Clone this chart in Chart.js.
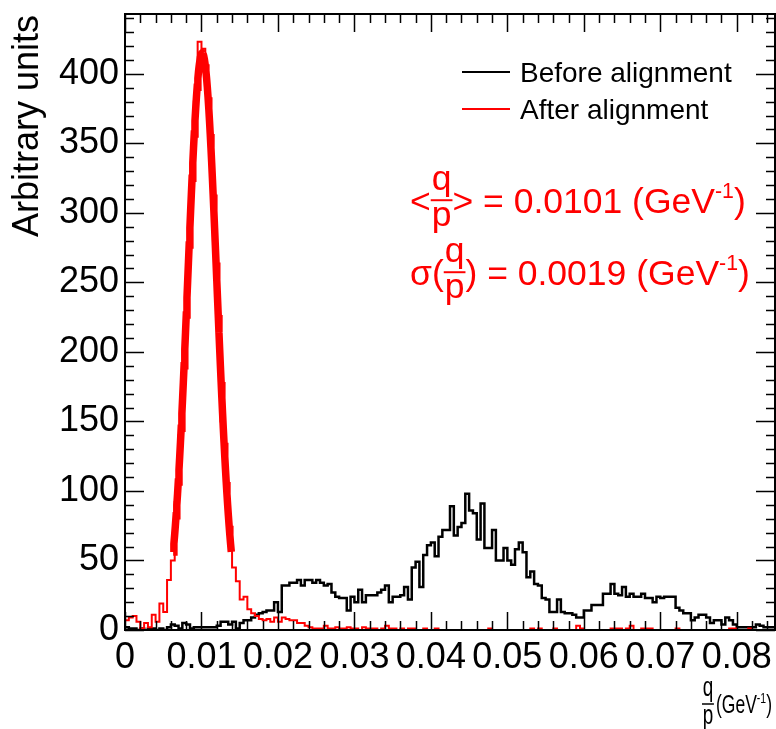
<!DOCTYPE html>
<html>
<head>
<meta charset="utf-8">
<title>q/p before and after alignment</title>
<script src="https://cdn.jsdelivr.net/npm/chart.js@4.4.0/dist/chart.umd.min.js"></script>
<style>
  html, body { margin: 0; padding: 0; background: #fff; }
  #wrap { width: 776px; height: 729px; }
</style>
</head>
<body>
<div id="wrap"><canvas id="c" width="776" height="729"></canvas></div>
<script>
// ---- histogram binning ----
const BIN_WIDTH = 0.0005;
const X_MIN = 0;
const X_MAX = 0.085;
const Y_MAX = 443;

// ---- axis ticks ----
const xTickValues = [0, 0.01, 0.02, 0.03, 0.04, 0.05, 0.06, 0.07, 0.08];
const yTickValues = [0, 50, 100, 150, 200, 250, 300, 350, 400];
const X_MINOR = 0.002;
const Y_MINOR = 10;

// ---- bin contents (170 bins of 0.0005 from 0 to 0.085) ----
const beforeCounts = [
  2, 1, 1, 0, 1, 0, 1, 1, 0, 1,
  0, 2, 4, 3, 1, 5, 4, 1, 2, 2,
  2, 2, 2, 2, 3, 6, 6, 4, 6, 1,
  5, 7, 7, 9, 11, 12, 13, 14, 14, 20,
  13, 32, 32, 34, 34, 36, 32, 36, 36, 34,
  36, 34, 32, 33, 27, 24, 23, 23, 14, 24,
  20, 29, 20, 25, 25, 25, 27, 29, 32, 20,
  24, 24, 25, 31, 22, 45, 49, 31, 54, 61,
  63, 53, 67, 72, 72, 89, 68, 74, 77, 98,
  86, 84, 65, 91, 59, 59, 72, 50, 50, 59,
  50, 47, 58, 63, 56, 38, 42, 33, 32, 23,
  22, 13, 13, 22, 13, 12, 12, 11, 9, 9,
  14, 14, 18, 18, 18, 26, 26, 33, 26, 25,
  31, 24, 26, 24, 24, 26, 23, 23, 20, 24,
  23, 24, 24, 24, 16, 14, 12, 12, 7, 9,
  11, 11, 9, 5, 7, 7, 4, 9, 7, 4,
  2, 2, 2, 2, 2, 4, 3, 2, 2, 2
];

const afterCounts = [
  7, 9, 10, 6, 1, 5, 2, 11, 6, 19,
  13, 36, 50, 92, 140, 190, 262, 318, 380, 423,
  418, 388, 350, 280, 222, 150, 100, 63, 45, 35,
  22, 24, 15, 12, 10, 8, 7, 8, 6, 9,
  6, 9, 8, 7, 7, 5, 5, 3, 2, 1,
  1, 1, 3, 1, 1, 2, 1, 1, 2, 1,
  1, 0, 2, 1, 1, 1, 0, 1, 3, 1,
  1, 0, 1, 0, 1, 1, 0, 0, 1, 0,
  0, 1, 0, 0, 0, 0, 0, 0, 0, 0,
  0, 0, 0, 0, 0, 1, 0, 0, 0, 0,
  0, 0, 0, 0, 0, 0, 1, 0, 1, 0,
  0, 0, 1, 0, 0, 0, 0, 0, 3, 1,
  0, 0, 0, 0, 0, 0, 0, 1, 1, 1,
  0, 1, 3, 0, 0, 1, 1, 1, 0, 0,
  0, 0, 0, 0, 1, 0, 0, 0, 0, 0,
  0, 0, 0, 0, 0, 0, 0, 0, 1, 1,
  0, 0, 0, 1, 0, 0, 0, 0, 0, 0
];

// ---- Gaussian fit of the aligned distribution ----
const FIT_MEAN = 0.0101;
const FIT_SIGMA = 0.0019;
const FIT_AMPLITUDE = 415;
const FIT_LOW = 0.0063;
const FIT_HIGH = 0.0139;
const FIT_SAMPLES = 80;

const seriesLabels = ['Before alignment', 'After alignment'];
const FONT = '"Liberation Sans", Arial, Helvetica, sans-serif';

// step outline: each bin starts at its low edge, last point closes the final bin
function histPoints(counts) {
  const pts = counts.map((c, i) => ({ x: X_MIN + i * BIN_WIDTH, y: c }));
  pts.push({ x: X_MIN + counts.length * BIN_WIDTH, y: counts[counts.length - 1] });
  return pts;
}

function fitPoints() {
  const pts = [];
  for (let k = 0; k <= FIT_SAMPLES; k++) {
    const x = FIT_LOW + (FIT_HIGH - FIT_LOW) * k / FIT_SAMPLES;
    const z = (x - FIT_MEAN) / FIT_SIGMA;
    pts.push({ x, y: FIT_AMPLITUDE * Math.exp(-0.5 * z * z) });
  }
  return pts;
}

// draws a run of text pieces left to right; a piece may be a fraction, a superscript or a gap
function drawPieces(ctx, x, baseline, pieces, size, fracSize) {
  ctx.textBaseline = 'alphabetic';
  ctx.textAlign = 'left';
  const fs = fracSize || size;
  for (const p of pieces) {
    if (p.gap) {
      x += p.gap;
    } else if (p.frac) {
      ctx.font = `${fs}px ${FONT}`;
      const wNum = ctx.measureText(p.frac[0]).width;
      const wDen = ctx.measureText(p.frac[1]).width;
      const w = Math.max(wNum, wDen) + 2;
      const barY = baseline - size * 0.36;
      ctx.fillText(p.frac[0], x + (w - wNum) / 2, barY - fs * 0.3);
      ctx.fillText(p.frac[1], x + (w - wDen) / 2, barY + fs * 0.74);
      ctx.save();
      ctx.lineWidth = Math.max(1.5, fs / 18);
      ctx.beginPath();
      ctx.moveTo(x, barY);
      ctx.lineTo(x + w, barY);
      ctx.stroke();
      ctx.restore();
      x += w;
    } else if (p.sup) {
      const s = size * 0.6;
      ctx.font = `${s}px ${FONT}`;
      ctx.fillText(p.sup, x, baseline - size * 0.42);
      x += ctx.measureText(p.sup).width;
    } else {
      ctx.font = `${size}px ${FONT}`;
      ctx.fillText(p.text, x, baseline);
      x += ctx.measureText(p.text).width;
    }
  }
  return x;
}

// frame, inward ticks on all four sides, titles, legend and fit results
const rootDecor = {
  id: 'rootDecor',
  afterDraw(chart) {
    const { ctx, chartArea: a, scales: { x, y } } = chart;
    ctx.save();
    ctx.strokeStyle = '#000';
    ctx.fillStyle = '#000';
    ctx.lineWidth = 1.5;
    ctx.beginPath();
    const nx = Math.round((X_MAX - X_MIN) / X_MINOR);
    for (let i = 0; i <= nx; i++) {
      const v = X_MIN + i * X_MINOR;
      if (v > X_MAX + 1e-12) break;
      const px = Math.round(x.getPixelForValue(v)) + 0.5;
      const len = (i % 5 === 0) ? 18 : 9;
      ctx.moveTo(px, a.bottom); ctx.lineTo(px, a.bottom - len);
      ctx.moveTo(px, a.top); ctx.lineTo(px, a.top + len);
    }
    const ny = Math.floor(Y_MAX / Y_MINOR);
    for (let i = 0; i <= ny; i++) {
      const v = i * Y_MINOR;
      const py = Math.round(y.getPixelForValue(v)) + 0.5;
      const len = (i % 5 === 0) ? 19 : 9;
      ctx.moveTo(a.left, py); ctx.lineTo(a.left + len, py);
      ctx.moveTo(a.right, py); ctx.lineTo(a.right - len, py);
    }
    ctx.stroke();
    ctx.lineWidth = 2;
    ctx.strokeRect(a.left, a.top, a.right - a.left, a.bottom - a.top);

    // y title, rotated and aligned to the top of the axis
    ctx.save();
    ctx.translate(38, a.top + 1);
    ctx.rotate(-Math.PI / 2);
    ctx.font = `36px ${FONT}`;
    ctx.textAlign = 'right';
    ctx.textBaseline = 'alphabetic';
    ctx.fillText('Arbitrary units', 0, 0);
    ctx.restore();

    // x title: q/p (GeV^-1), set condensed
    ctx.save();
    ctx.translate(702, 0);
    ctx.scale(0.7, 1);
    drawPieces(ctx, 0, 713, [
      { frac: ['q', 'p'] }, { gap: 3 },
      { text: '(GeV' }, { sup: '-1' }, { text: ')' }
    ], 25, 27);
    ctx.restore();

    // legend
    const legend = [
      { label: chart.data.datasets[2].label, color: '#000', y: 72 },
      { label: chart.data.datasets[1].label, color: '#ff0000', y: 109 }
    ];
    for (const item of legend) {
      ctx.strokeStyle = item.color;
      ctx.lineWidth = 2;
      ctx.beginPath();
      ctx.moveTo(462, item.y); ctx.lineTo(510, item.y);
      ctx.stroke();
      ctx.fillStyle = '#000';
      ctx.font = `28px ${FONT}`;
      ctx.textAlign = 'left';
      ctx.textBaseline = 'alphabetic';
      ctx.fillText(item.label, 520, item.y + 10);
    }

    // fit results
    ctx.fillStyle = '#ff0000';
    ctx.strokeStyle = '#ff0000';
    drawPieces(ctx, 410, 213, [
      { text: '<' }, { frac: ['q', 'p'] }, { text: '>' },
      { text: ' = ' + FIT_MEAN.toFixed(4) + ' (GeV' }, { sup: '-1' }, { text: ')' }
    ], 35.5);
    drawPieces(ctx, 410, 285, [
      { text: '\u03C3(' }, { frac: ['q', 'p'] }, { text: ')' },
      { text: ' = ' + FIT_SIGMA.toFixed(4) + ' (GeV' }, { sup: '-1' }, { text: ')' }
    ], 35.5);
    ctx.restore();
  }
};

new Chart(document.getElementById('c'), {
  type: 'line',
  data: {
    datasets: [
      {
        label: 'Gaussian fit',
        data: fitPoints(),
        borderColor: '#ff0000',
        borderWidth: 7.5,
        pointRadius: 0,
        tension: 0,
        order: 0
      },
      {
        label: seriesLabels[1],
        data: histPoints(afterCounts),
        borderColor: '#ff0000',
        borderWidth: 2,
        pointRadius: 0,
        stepped: 'before',
        order: 1
      },
      {
        label: seriesLabels[0],
        data: histPoints(beforeCounts),
        borderColor: '#000000',
        borderWidth: 2.5,
        pointRadius: 0,
        stepped: 'before',
        order: 2
      }
    ]
  },
  options: {
    responsive: false,
    animation: false,
    devicePixelRatio: 1,
    layout: { padding: { top: 14, right: 1, left: 0, bottom: 0 } },
    plugins: {
      legend: { display: false },
      tooltip: { enabled: false }
    },
    scales: {
      x: {
        type: 'linear',
        min: X_MIN,
        max: X_MAX,
        grid: { display: false, drawTicks: false },
        border: { display: false },
        afterBuildTicks(scale) { scale.ticks = xTickValues.map(v => ({ value: v })); },
        afterFit(scale) {
          scale.height = 99;
          scale.paddingLeft = 0; scale.paddingRight = 0;
          scale.paddingTop = 0; scale.paddingBottom = 0;
        },
        ticks: {
          autoSkip: false,
          maxRotation: 0,
          minRotation: 0,
          padding: 6,
          color: '#000',
          font: { family: FONT, size: 36 },
          callback: v => (v === 0 ? '0' : v.toFixed(2))
        }
      },
      y: {
        type: 'linear',
        min: 0,
        max: Y_MAX,
        grid: { display: false, drawTicks: false },
        border: { display: false },
        afterBuildTicks(scale) { scale.ticks = yTickValues.map(v => ({ value: v })); },
        afterFit(scale) {
          scale.width = 125;
          scale.paddingLeft = 0; scale.paddingRight = 0;
          scale.paddingTop = 0; scale.paddingBottom = 0;
        },
        ticks: {
          autoSkip: false,
          padding: 6,
          color: '#000',
          font: { family: FONT, size: 36 },
          callback: v => String(v)
        }
      }
    }
  },
  plugins: [rootDecor]
});
</script>
</body>
</html>
